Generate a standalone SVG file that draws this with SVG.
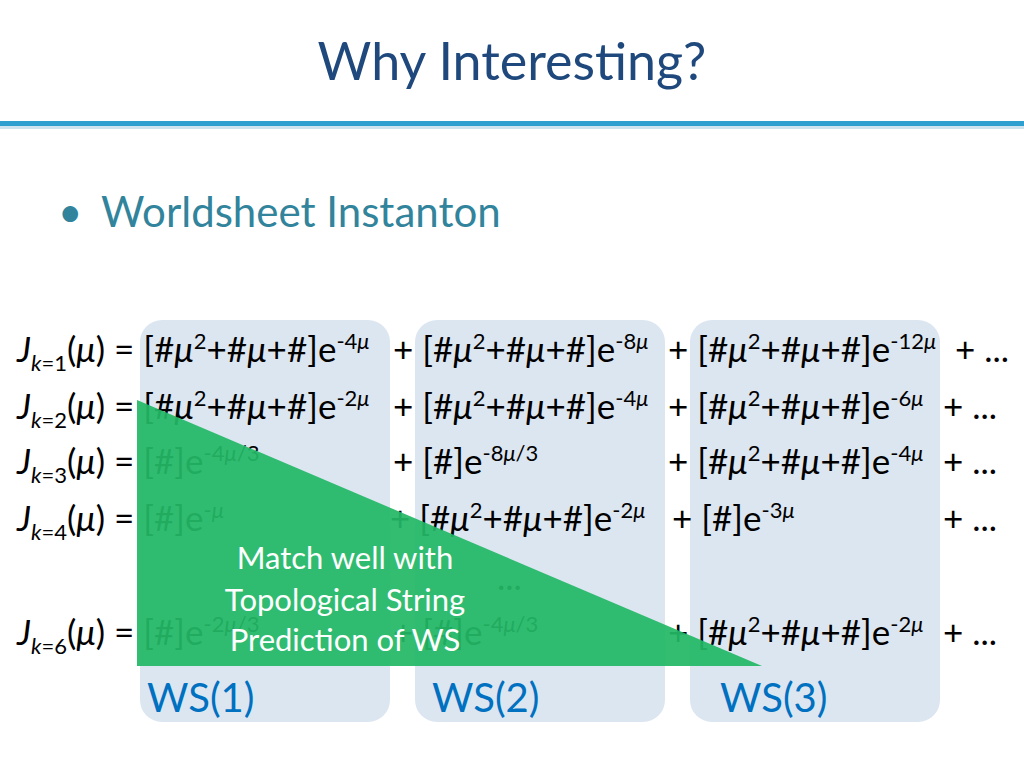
<svg xmlns="http://www.w3.org/2000/svg" width="1024" height="768" viewBox="0 0 1024 768">
<style>
.m{font-family:Lato,"Open Sans",sans-serif;font-size:35px;fill:#000}
.i{font-style:italic}
.s{font-size:22px}
.ws{font-family:Lato,"Open Sans",sans-serif;font-size:40px;fill:#0070c0}
.g{font-family:Lato,"Open Sans",sans-serif;font-size:31px;fill:#fff;text-anchor:middle}
.col{fill:#dce6f1}
</style>
<rect width="1024" height="768" fill="#fff"/>
<text x="512" y="80" text-anchor="middle" font-family="Lato,'Open Sans',sans-serif" font-size="52" fill="#1f497d">Why Interesting?</text>
<rect x="0" y="121" width="1024" height="5" fill="#2e9fcf"/>
<rect x="0" y="126" width="1024" height="3" fill="#cfe3ee"/>
<text x="58" y="227" font-family="Lato,'Open Sans',sans-serif" font-size="42" fill="#31849b">•</text>
<text x="101" y="227" font-family="Lato,'Open Sans',sans-serif" font-size="42" fill="#31849b">Worldsheet Instanton</text>
<g id="columns">
<rect id="ws1" class="col" x="140" y="320" width="250" height="402" rx="22"/>
<rect id="ws2" class="col" x="415" y="320" width="250" height="402" rx="22"/>
<rect id="ws3" class="col" x="690" y="320" width="250" height="402" rx="22"/>
</g>
<g id="rows" class="m">
<text x="17" y="362"><tspan class="i">J</tspan><tspan class="s i" dy="9">k</tspan><tspan class="s" >=1</tspan><tspan dy="-9">(</tspan><tspan class="i">μ</tspan>) = [#<tspan class="i">μ</tspan><tspan class="s" dy="-13">2</tspan><tspan dy="13">+#</tspan><tspan class="i">μ</tspan>+#]e<tspan class="s" dy="-13">-4<tspan class="i">μ</tspan></tspan></text>
<text x="393" y="362">+ [#<tspan class="i">μ</tspan><tspan class="s" dy="-13">2</tspan><tspan dy="13">+#</tspan><tspan class="i">μ</tspan>+#]e<tspan class="s" dy="-13">-8<tspan class="i">μ</tspan></tspan></text>
<text x="668" y="362">+ [#<tspan class="i">μ</tspan><tspan class="s" dy="-13">2</tspan><tspan dy="13">+#</tspan><tspan class="i">μ</tspan>+#]e<tspan class="s" dy="-13">-12<tspan class="i">μ</tspan></tspan></text>
<text x="955" y="362">+ ...</text>

<text x="17" y="419"><tspan class="i">J</tspan><tspan class="s i" dy="9">k</tspan><tspan class="s">=2</tspan><tspan dy="-9">(</tspan><tspan class="i">μ</tspan>) = [#<tspan class="i">μ</tspan><tspan class="s" dy="-13">2</tspan><tspan dy="13">+#</tspan><tspan class="i">μ</tspan>+#]e<tspan class="s" dy="-13">-2<tspan class="i">μ</tspan></tspan></text>
<text x="393" y="419">+ [#<tspan class="i">μ</tspan><tspan class="s" dy="-13">2</tspan><tspan dy="13">+#</tspan><tspan class="i">μ</tspan>+#]e<tspan class="s" dy="-13">-4<tspan class="i">μ</tspan></tspan></text>
<text x="668" y="419">+ [#<tspan class="i">μ</tspan><tspan class="s" dy="-13">2</tspan><tspan dy="13">+#</tspan><tspan class="i">μ</tspan>+#]e<tspan class="s" dy="-13">-6<tspan class="i">μ</tspan></tspan></text>
<text x="943" y="419">+ ...</text>

<text x="17" y="474"><tspan class="i">J</tspan><tspan class="s i" dy="9">k</tspan><tspan class="s">=3</tspan><tspan dy="-9">(</tspan><tspan class="i">μ</tspan>) = [#]e<tspan class="s" dy="-13">-4<tspan class="i">μ</tspan>/3</tspan></text>
<text x="393" y="474">+ [#]e<tspan class="s" dy="-13">-8<tspan class="i">μ</tspan>/3</tspan></text>
<text x="668" y="474">+ [#<tspan class="i">μ</tspan><tspan class="s" dy="-13">2</tspan><tspan dy="13">+#</tspan><tspan class="i">μ</tspan>+#]e<tspan class="s" dy="-13">-4<tspan class="i">μ</tspan></tspan></text>
<text x="943" y="474">+ ...</text>

<text x="17" y="531"><tspan class="i">J</tspan><tspan class="s i" dy="9">k</tspan><tspan class="s">=4</tspan><tspan dy="-9">(</tspan><tspan class="i">μ</tspan>) = [#]e<tspan class="s" dy="-13">-<tspan class="i">μ</tspan></tspan></text>
<text x="390" y="531">+ [#<tspan class="i">μ</tspan><tspan class="s" dy="-13">2</tspan><tspan dy="13">+#</tspan><tspan class="i">μ</tspan>+#]e<tspan class="s" dy="-13">-2<tspan class="i">μ</tspan></tspan></text>
<text x="672" y="531">+ [#]e<tspan class="s" dy="-13">-3<tspan class="i">μ</tspan></tspan></text>
<text x="943" y="531">+ ...</text>

<text x="497" y="590">...</text>

<text x="17" y="645"><tspan class="i">J</tspan><tspan class="s i" dy="9">k</tspan><tspan class="s">=6</tspan><tspan dy="-9">(</tspan><tspan class="i">μ</tspan>) = [#]e<tspan class="s" dy="-13">-2<tspan class="i">μ</tspan>/3</tspan></text>
<text x="393" y="645">+ [#]e<tspan class="s" dy="-13">-4<tspan class="i">μ</tspan>/3</tspan></text>
<text x="668" y="645">+ [#<tspan class="i">μ</tspan><tspan class="s" dy="-13">2</tspan><tspan dy="13">+#</tspan><tspan class="i">μ</tspan>+#]e<tspan class="s" dy="-13">-2<tspan class="i">μ</tspan></tspan></text>
<text x="943" y="645">+ ...</text>
</g>
<g id="labels">
<text class="ws" x="147" y="712">WS(1)</text>
<text class="ws" x="432" y="712">WS(2)</text>
<text class="ws" x="720" y="712">WS(3)</text>
</g>
<g id="triangle">
<polygon points="137,400 137,666 762,666" fill="#22b866" fill-opacity="0.93"/>
<text class="g" x="345" y="569">Match well with</text>
<text class="g" x="345" y="611">Topological String</text>
<text class="g" x="345" y="651">Prediction of WS</text>
</g>
</svg>
